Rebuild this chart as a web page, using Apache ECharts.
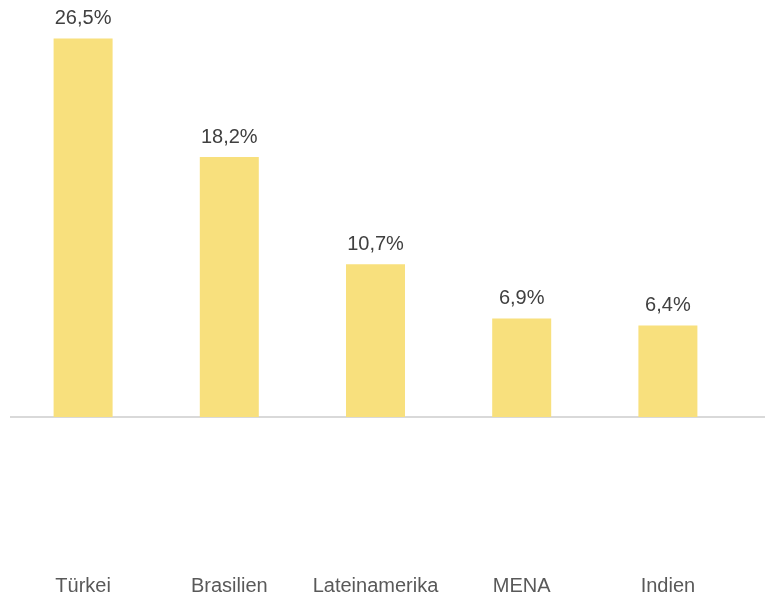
<!DOCTYPE html>
<html>
<head>
<meta charset="utf-8">
<script src="https://cdn.jsdelivr.net/npm/echarts@6/dist/echarts.min.js"></script>
<style>
  html, body { margin: 0; padding: 0; background: #fff; }
  #chart { width: 765px; height: 597px; }
</style>
</head>
<body>
<div id="chart"></div>
<script>
const categories = ["Türkei", "Brasilien", "Lateinamerika", "MENA", "Indien"];
const values = [26.5, 18.2, 10.7, 6.9, 6.4];

const chart = echarts.init(document.getElementById("chart"));

chart.setOption({
  animation: false,
  textStyle: { fontFamily: "Liberation Sans, Arial, sans-serif" },
  grid: { left: 10, right: 24, top: 17, bottom: 180 },
  xAxis: {
    type: "category",
    data: categories,
    axisLine: { show: false },
    axisTick: { show: false },
    axisLabel: {
      interval: 0,
      margin: 159,
      fontSize: 20,
      color: "#595959",
      fontFamily: "Liberation Sans, Arial, sans-serif",
    },
  },
  yAxis: {
    type: "value",
    min: 0,
    max: 28,
    show: false,
    splitLine: { show: false },
  },
  // baseline runs past the plot to the right edge
  graphic: [
    {
      type: "line",
      shape: { x1: 10, y1: 417, x2: 765, y2: 417 },
      style: { stroke: "#d9d9d9", lineWidth: 2 },
      z: 1,
    },
  ],
  series: [
    {
      type: "bar",
      data: values,
      barWidth: 59,
      itemStyle: { color: "#F8E07D" },
      z: 2,
      label: {
        show: true,
        position: "top",
        distance: 10,
        fontSize: 20,
        color: "#404040",
        fontFamily: "Liberation Sans, Arial, sans-serif",
        formatter: (p) => p.value.toFixed(1).replace(".", ",") + "%",
      },
    },
  ],
});
</script>
</body>
</html>
